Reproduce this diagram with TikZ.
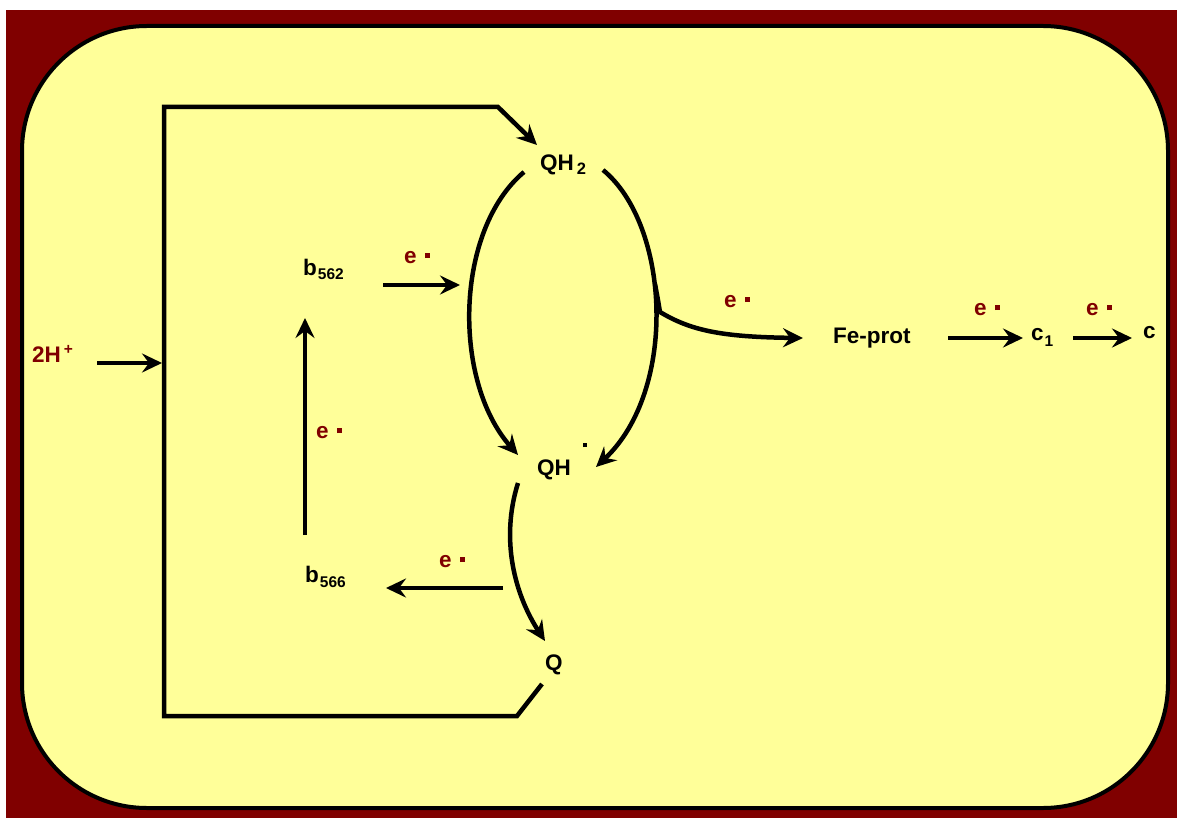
\documentclass[tikz,border=0pt]{standalone}
\usepackage{fontspec}
\setmainfont{Liberation Sans}
\usetikzlibrary{arrows.meta}
\definecolor{framered}{HTML}{800000}
\definecolor{panel}{HTML}{FFFF99}
% electron label: "e" followed by a small square dot
\newcommand\elec{e\hspace{8pt}\rule[5pt]{5pt}{5pt}}
\newcommand\sub[1]{\raisebox{-5pt}{\fontsize{15.5}{15.5}\selectfont #1}}
\begin{document}
\begin{tikzpicture}[x=1pt,y=-1pt,
  lbl/.style={anchor=base west,inner sep=0pt,font=\fontsize{22.5}{26}\selectfont\bfseries},
  elbl/.style={lbl,text=framered},
  flow/.style={line width=4.5pt,-{Stealth[length=20pt,width=19pt,inset=7pt]}},
  plain/.style={line width=4.5pt}]
\useasboundingbox (0,0) rectangle (1177,818);
\fill[white] (0,0) rectangle (1177,818);
\fill[framered] (6,10) rectangle (1177,818);
\draw[line width=4pt,fill=panel,rounded corners=125pt] (22,26) rectangle (1168,808);

% species
\node[lbl] (qh2) at (540,171) {QH\hspace{3pt}\raisebox{-4pt}{\fontsize{16.5}{16.5}\selectfont 2}};
\node[lbl] (qh) at (537,475) {QH\hspace{12pt}\rule[28pt]{4.5pt}{4.5pt}};
\node[lbl] (q) at (545,670) {Q};
\node[lbl] (b562) at (303,275) {b\hspace{1pt}\sub{562}};
\node[lbl] (b566) at (305,582) {b\hspace{1pt}\sub{566}};
\node[lbl] (feprot) at (833,343) {Fe-prot};
\node[lbl] (c1) at (1031,340) {c\hspace{1pt}\raisebox{-6pt}{\fontsize{15.5}{15.5}\selectfont 1}};
\node[lbl] (c) at (1143,338) {c};
\node[elbl] (protons) at (32,362) {2H\hspace{3pt}\raisebox{8pt}{\fontsize{15.5}{15.5}\selectfont +}};

% electron labels
\node[elbl] (e1) at (404,263) {\elec};
\node[elbl] (e2) at (724,307) {\elec};
\node[elbl] (e3) at (974,315) {\elec};
\node[elbl] (e4) at (1086,315) {\elec};
\node[elbl] (e5) at (439,567) {\elec};
\node[elbl] (e6) at (316,438) {\elec};

% connector end points
\coordinate (lTop) at (524,172);
\coordinate (lBot) at (518,455);
\coordinate (rTop) at (603,170);
\coordinate (rBot) at (596,467);
\coordinate (fork) at (655,284);
\coordinate (forkB) at (660,312);
\coordinate (feIn) at (803,338);
\coordinate (bIn) at (460,285);
\coordinate (bOut) at (383,285);
\coordinate (b566Out) at (305,535);
\coordinate (b562In) at (305,318);
\coordinate (qOut) at (518,483);
\coordinate (qIn) at (545,641);
\coordinate (b566In) at (386,588);
\coordinate (qhOut) at (503,588);
\coordinate (c1In) at (1023,338);
\coordinate (feOut) at (948,338);
\coordinate (cIn) at (1132,338);
\coordinate (c1Out) at (1073,338);
\coordinate (hIn) at (162,363);
\coordinate (hOut) at (97,363);
\coordinate (loopA) at (542,684);
\coordinate (loopB) at (517,716);
\coordinate (loopC) at (164,716);
\coordinate (loopD) at (164,107);
\coordinate (loopE) at (498,107);
\coordinate (loopF) at (537,145);

% Q cycle
\draw[flow] (lTop) .. controls (455,230) and (452,380) .. (lBot);
\draw[flow] (rTop) .. controls (670,225) and (678,390) .. (rBot);
\draw[flow,line join=round] (fork) .. controls (658,300) .. (forkB) .. controls (690,330) and (720,337) .. (feIn);
\draw[flow] (qOut) .. controls (500,540) and (515,595) .. (qIn);

% electron transfers
\draw[flow] (bOut) -- (bIn);
\draw[flow] (b566Out) -- (b562In);
\draw[flow] (qhOut) -- (b566In);
\draw[flow] (feOut) -- (c1In);
\draw[flow] (c1Out) -- (cIn);

% proton uptake and quinone return loop
\draw[flow] (hOut) -- (hIn);
\draw[flow,line join=miter] (loopA) -- (loopB) -- (loopC) -- (loopD) -- (loopE) -- (loopF);
\end{tikzpicture}
\end{document}
